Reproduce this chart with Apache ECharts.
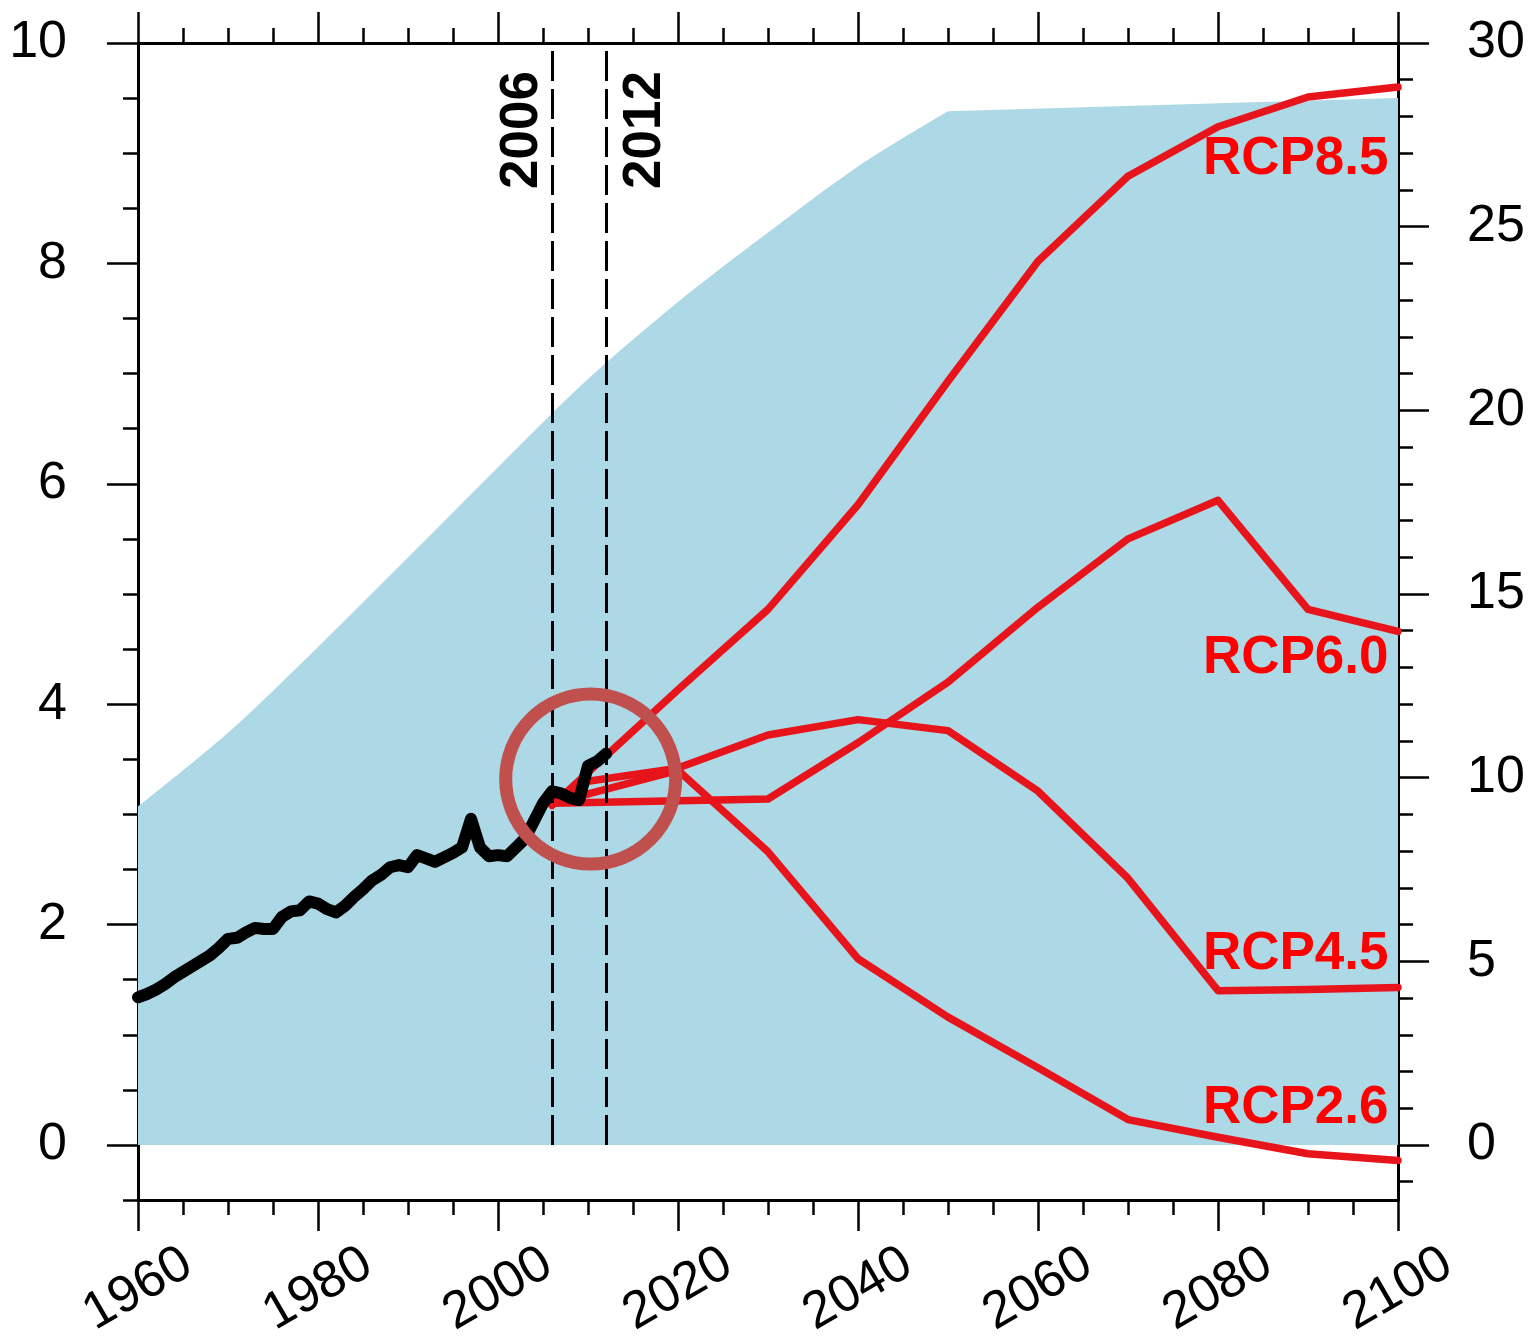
<!DOCTYPE html>
<html>
<head>
<meta charset="utf-8">
<script src="https://cdn.jsdelivr.net/npm/echarts@6/dist/echarts.min.js"></script>
<style>
html,body{margin:0;padding:0;background:#ffffff;}
#chart{width:1533px;height:1342px;}
</style>
</head>
<body>
<div id="chart"></div>
<script>
// ---------------- data ----------------
const obsYears = [1960,1961,1962,1963,1964,1965,1966,1967,1968,1969,1970,1971,1972,1973,1974,1975,1976,1977,1978,1979,
  1980,1981,1982,1983,1984,1985,1986,1987,1988,1989,1990,1991,1992,1993,1994,1995,1996,1997,1998,1999,
  2000,2001,2002,2003,2004,2005,2006,2007,2008,2009,2010,2011,2012];
const obsValues = [1.34,1.37,1.41,1.46,1.52,1.57,1.62,1.67,1.72,1.79,1.87,1.88,1.93,1.97,1.96,1.96,2.07,2.12,2.13,2.21,
  2.19,2.14,2.11,2.17,2.25,2.32,2.40,2.45,2.52,2.54,2.52,2.63,2.60,2.57,2.61,2.65,2.70,2.96,2.70,2.62,
  2.63,2.62,2.70,2.78,2.94,3.10,3.21,3.19,3.15,3.13,3.44,3.48,3.55];

// upper edge of the shaded envelope: rising part, then the flat plateau
const envelopeRiseYears  = [1960,1970,1980,1990,2000,2010,2020,2030,2040,2050];
const envelopeRiseValues = [3.07,3.74,4.52,5.33,6.15,6.95,7.65,8.28,8.88,9.38];
const envelopeFlatYears  = [2050,2100];
const envelopeFlatValues = [9.38,9.50];

const rcpNames = ['RCP8.5','RCP6.0','RCP4.5','RCP2.6'];
const rcp85Years  = [2006,2020,2030,2040,2050,2060,2070,2080,2090,2100];
const rcp85Values = [3.08,4.13,4.86,5.81,6.93,8.02,8.79,9.24,9.51,9.60];
const rcp60Years  = [2006,2030,2040,2050,2060,2070,2080,2090,2100];
const rcp60Values = [3.10,3.14,3.65,4.20,4.88,5.50,5.85,4.86,4.66];
const rcp45Years  = [2006,2010,2020,2030,2040,2050,2060,2070,2080,2090,2100];
const rcp45Values = [3.10,3.30,3.42,3.72,3.86,3.76,3.21,2.42,1.40,1.41,1.43];
const rcp26Years  = [2006,2020,2030,2040,2050,2060,2070,2080,2090,2100];
const rcp26Values = [3.10,3.40,2.66,1.69,1.16,0.70,0.23,0.07,-0.08,-0.14];

const markerYears = [2006, 2012];
const highlightCenter = [2010.3, 3.32];

const xTickLabels   = [1960,1980,2000,2020,2040,2060,2080,2100];
const leftTickLabels  = [0,2,4,6,8,10];
const rightTickLabels = [0,5,10,15,20,25,30];

// ---------------- helpers / styles ----------------
const FONT = '"Liberation Sans", Arial, Helvetica, sans-serif';
const LINE = {color:'#000', width:3};
const TICK = {color:'#000', width:2.5};
const RED = '#E8141B';
const BLUE = '#ADD8E6';
const zip = (xs, ys) => xs.map((x,i)=>[x, ys[i]]);

const leftMin = -0.5, leftMax = 10, rightMin = -1.5, rightMax = 30;
const leftMinor = []; for (let v = leftMin; v <= leftMax + 1e-9; v += 0.5) leftMinor.push(+v.toFixed(2));
const rightMinor = []; for (let v = -1; v <= rightMax; v += 1) rightMinor.push(v);

const rcpSeries = [
  zip(rcp85Years, rcp85Values),
  zip(rcp60Years, rcp60Values),
  zip(rcp45Years, rcp45Values),
  zip(rcp26Years, rcp26Values)
];
// label anchor (left axis units) for each scenario name, placed at right edge
const rcpLabelLevel = [8.94, 4.42, 1.73, 0.33];

const chart = echarts.init(document.getElementById('chart'), null, {renderer:'canvas'});

const baseX = {
  type:'value', min:1960, max:2100, interval:20,
  splitLine:{show:false}, minorSplitLine:{show:false},
  axisLine:{show:true, onZero:false, lineStyle:LINE},
  axisTick:{show:true, inside:false, length:31, lineStyle:TICK},
  minorTick:{show:true, splitNumber:4, length:15, lineStyle:TICK}
};

const areaSeries = (data, smooth) => ({
  type:'line', xAxisIndex:0, yAxisIndex:0, data,
  symbol:'none', silent:true, z:1, smooth,
  lineStyle:{width:0, color:BLUE},
  areaStyle:{color:BLUE, opacity:1, origin:0}
});

const option = {
  animation:false,
  backgroundColor:'#ffffff',
  grid:{left:138, right:135, top:43, bottom:138, containLabel:false},
  xAxis:[
    Object.assign({}, baseX, {
      position:'bottom',
      axisLabel:{show:true, rotate:30, align:'center', verticalAlign:'middle', margin:89,
        fontSize:52, fontFamily:FONT, color:'#000', showMinLabel:true, showMaxLabel:true,
        customValues:xTickLabels, formatter:v=>String(v)}
    }),
    Object.assign({}, baseX, {
      position:'top',
      axisLabel:{show:false}
    })
  ],
  yAxis:[
    {type:'value', position:'left', min:leftMin, max:leftMax,
     splitLine:{show:false},
     axisLine:{show:true, onZero:false, lineStyle:LINE},
     axisTick:{show:true, inside:false, length:31, lineStyle:TICK, customValues:leftTickLabels},
     axisLabel:{show:true, margin:71, fontSize:52, fontFamily:FONT, color:'#000',
       customValues:leftTickLabels, formatter:v=>String(v)}},
    {type:'value', position:'left', min:leftMin, max:leftMax,
     splitLine:{show:false},
     axisLine:{show:false},
     axisTick:{show:true, inside:false, length:15, lineStyle:TICK, customValues:leftMinor},
     axisLabel:{show:false}},
    {type:'value', position:'right', min:rightMin, max:rightMax,
     splitLine:{show:false},
     axisLine:{show:true, onZero:false, lineStyle:LINE},
     axisTick:{show:true, inside:false, length:31, lineStyle:TICK, customValues:rightTickLabels},
     axisLabel:{show:true, margin:69, fontSize:52, fontFamily:FONT, color:'#000',
       customValues:rightTickLabels, formatter:v=>String(v)}},
    {type:'value', position:'right', min:rightMin, max:rightMax,
     splitLine:{show:false},
     axisLine:{show:false},
     axisTick:{show:true, inside:false, length:15, lineStyle:TICK, customValues:rightMinor},
     axisLabel:{show:false}}
  ],
  series:[
    Object.assign({name:'envelopeRise'}, areaSeries(zip(envelopeRiseYears, envelopeRiseValues), 0.3)),
    Object.assign({name:'envelopeFlat'}, areaSeries(zip(envelopeFlatYears, envelopeFlatValues), false)),
    ...rcpSeries.map((d,i)=>({
      name:rcpNames[i], type:'line', xAxisIndex:0, yAxisIndex:0,
      data:d, symbol:'none', silent:true, z:3,
      lineStyle:{width:7.5, color:RED, join:'round', cap:'round'}
    })),
    {
      name:'observed', type:'line', xAxisIndex:0, yAxisIndex:0,
      data:zip(obsYears, obsValues), symbol:'none', silent:true, z:4,
      lineStyle:{width:12, color:'#000', join:'round', cap:'round'}
    },
    {
      name:'markers', type:'line', xAxisIndex:0, yAxisIndex:0,
      data:[], symbol:'none', silent:true, z:5,
      markLine:{
        silent:true, symbol:['none','none'], animation:false,
        label:{show:false},
        lineStyle:{type:[30,8], width:3, color:'#000', opacity:1},
        data:markerYears.map(y=>[{coord:[y,0]},{coord:[y,leftMax]}])
      }
    },
    {
      name:'markerLabels', type:'scatter', xAxisIndex:0, yAxisIndex:0,
      data:markerYears.map((y,i)=>({value:[i===0 ? y-3.3 : y+4.4, 9.21], name:String(y)})),
      symbolSize:1, itemStyle:{color:'rgba(0,0,0,0)', opacity:1}, silent:true, z:6,
      label:{show:true, position:'inside', rotate:90, formatter:p=>p.name, opacity:1,
        fontSize:53, fontWeight:'bold', fontFamily:FONT, color:'#000000'}
    },
    {
      name:'rcpLabels', type:'scatter', xAxisIndex:0, yAxisIndex:0,
      data:rcpNames.map((n,i)=>({value:[2100, rcpLabelLevel[i]], name:n})),
      symbolSize:1, itemStyle:{color:'rgba(0,0,0,0)', opacity:1}, silent:true, z:6,
      label:{show:true, position:'left', distance:9, formatter:p=>p.name, opacity:1,
        fontSize:53, fontWeight:'bold', fontFamily:FONT, color:'#FF0000'}
    },
    {
      name:'highlight', type:'scatter', xAxisIndex:0, yAxisIndex:0,
      data:[highlightCenter], symbol:'circle', symbolSize:170, silent:true, z:10,
      itemStyle:{color:'rgba(0,0,0,0)', borderColor:'#C0504D', borderWidth:13, opacity:1}
    }
  ]
};
chart.setOption(option);
</script>
</body>
</html>
